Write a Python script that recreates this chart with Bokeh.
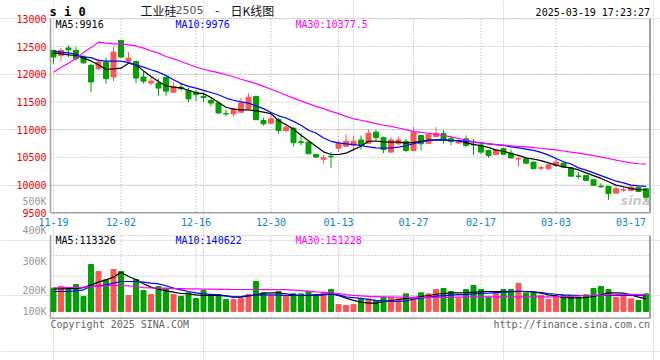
from bokeh.plotting import figure
from bokeh.models import Range1d, Label, ColumnDataSource
from bokeh.core.properties import value
from bokeh.embed import file_html
from bokeh.resources import INLINE

# ---------------- data ----------------
date_idx = [0, 9, 19, 29, 38, 48, 57, 67, 77]
date_labels = ["11-19", "12-02", "12-16", "12-30", "01-13", "01-27", "02-17", "03-03", "03-17"]
price_ticks = [9500, 10000, 10500, 11000, 11500, 12000, 12500, 13000]
vol_tick_labels = ["500K", "400K", "300K", "200K", "100K"]

opens = [12430, 12340, 12475, 12430, 12325, 12160, 12100, 12220, 11950, 12610,
         12235, 12230, 11950, 11840, 11840, 11945, 11675, 11765, 11705, 11675,
         11600, 11525, 11480, 11290, 11285, 11315, 11380, 11600, 11165, 11117,
         11180, 10985, 11025, 10780, 10775, 10550, 10467, 10520, 10665, 10700,
         10720, 10815, 10755, 10955, 10855, 10595, 10745, 10790, 10625, 10895,
         10755, 10877, 10930, 10835, 10760, 10835, 10730, 10725, 10625, 10552,
         10655, 10575, 10470, 10475, 10415, 10305, 10295, 10355, 10395, 10310,
         10165, 10175, 10095, 9980, 9975, 9855, 9910, 9905, 9960, 9935]
highs = [12440, 12480, 12520, 12490, 12330, 12190, 12280, 12300, 12490, 12615,
         12400, 12250, 12055, 11950, 11920, 11950, 11855, 11830, 11755, 11720,
         11675, 11585, 11490, 11360, 11380, 11575, 11660, 11610, 11215, 11286,
         11215, 11115, 11045, 10935, 10780, 10560, 10550, 10595, 10805, 10915,
         10895, 10895, 10995, 10995, 10875, 10865, 10875, 10830, 11055, 10900,
         10920, 11045, 10990, 10895, 10830, 10895, 10835, 10760, 10640, 10660,
         10680, 10640, 10515, 10495, 10420, 10355, 10370, 10475, 10400, 10320,
         10235, 10185, 10100, 10030, 9980, 9975, 9975, 9990, 9975, 9940]
lows = [12190, 12235, 12310, 12250, 12190, 11680, 12080, 11830, 11875, 12300,
        12230, 11840, 11830, 11800, 11615, 11605, 11670, 11705, 11495, 11515,
        11495, 11420, 11290, 11240, 11240, 11300, 11370, 11170, 11075, 11110,
        10925, 10955, 10695, 10715, 10560, 10495, 10385, 10310, 10595, 10685,
        10625, 10640, 10750, 10805, 10575, 10590, 10720, 10600, 10620, 10625,
        10750, 10870, 10748, 10715, 10740, 10685, 10545, 10565, 10490, 10545,
        10550, 10480, 10335, 10385, 10290, 10265, 10290, 10325, 10320, 10155,
        10115, 10080, 9990, 9950, 9735, 9845, 9880, 9890, 9880, 9710]
closes = [12310, 12430, 12440, 12280, 12205, 11860, 12220, 11920, 12400, 12310,
          12290, 11930, 11875, 11875, 11750, 11695, 11780, 11740, 11555, 11630,
          11580, 11480, 11300, 11285, 11375, 11480, 11585, 11180, 11105, 11196,
          10985, 11045, 10765, 10770, 10565, 10505, 10492, 10510, 10755, 10790,
          10790, 10715, 10935, 10855, 10640, 10815, 10815, 10625, 10955, 10745,
          10915, 10935, 10825, 10788, 10800, 10715, 10725, 10595, 10535, 10637,
          10555, 10490, 10480, 10395, 10295, 10315, 10365, 10415, 10325, 10160,
          10155, 10085, 9995, 9970, 9845, 9935, 9915, 9965, 9885, 9780]

ma5 = [12380, 12370, 12350, 12338, 12290, 12240, 12170, 12085, 12095, 12110,
       12200, 12170, 12060, 11960, 11870, 11790, 11766, 11755, 11710, 11665,
       11650, 11580, 11490, 11405, 11370, 11358, 11358, 11340, 11315, 11290,
       11165, 11090, 11010, 10900, 10800, 10700, 10600, 10552, 10552, 10575,
       10640, 10700, 10790, 10795, 10780, 10774, 10774, 10756, 10770, 10790,
       10810, 10817, 10815, 10804, 10804, 10760, 10735, 10710, 10680, 10630,
       10610, 10570, 10535, 10490, 10470, 10440, 10400, 10360, 10330, 10310,
       10275, 10220, 10170, 10120, 10060, 10000, 9970, 9935, 9918, 9916]
ma10 = [12416, 12400, 12385, 12360, 12310, 12300, 12250, 12235, 12235, 12235,
        12210, 12170, 12127, 12080, 12037, 11975, 11900, 11830, 11780, 11750,
        11710, 11670, 11630, 11570, 11530, 11500, 11480, 11430, 11380, 11310,
        11250, 11210, 11150, 11080, 10990, 10940, 10850, 10790, 10760, 10745,
        10730, 10714, 10690, 10670, 10666, 10672, 10684, 10710, 10745, 10780,
        10804, 10812, 10817, 10804, 10798, 10790, 10775, 10760, 10745, 10730,
        10715, 10690, 10672, 10650, 10625, 10590, 10540, 10480, 10420, 10380,
        10310, 10270, 10220, 10170, 10120, 10070, 10040, 10000, 9985, 9976]
ma30 = [12037, 12120, 12200, 12290, 12390, 12480, 12578, 12560, 12549, 12549,
        12530, 12510, 12470, 12420, 12380, 12320, 12278, 12230, 12180, 12130,
        12090, 12055, 12030, 11990, 11955, 11910, 11870, 11830, 11780, 11730,
        11680, 11620, 11570, 11520, 11470, 11420, 11380, 11330, 11290, 11240,
        11196, 11170, 11140, 11110, 11080, 11060, 11030, 11000, 10965, 10950,
        10935, 10915, 10895, 10870, 10840, 10810, 10780, 10760, 10745, 10730,
        10720, 10710, 10700, 10690, 10675, 10665, 10650, 10635, 10615, 10595,
        10575, 10555, 10530, 10505, 10480, 10450, 10425, 10400, 10385, 10378]

volume_k = [210, 225, 198, 243, 135, 423, 360, 285, 378, 360,
            144, 288, 189, 153, 225, 210, 153, 135, 168, 117,
            189, 153, 153, 108, 108, 120, 153, 270, 168, 144,
            180, 144, 159, 159, 183, 153, 165, 198, 63, 54,
            63, 114, 114, 99, 129, 129, 114, 159, 114, 168,
            159, 198, 207, 180, 117, 198, 234, 198, 129, 168,
            198, 198, 252, 168, 168, 144, 108, 138, 144, 144,
            129, 150, 207, 225, 198, 129, 138, 114, 99, 159]
vol_ma5_k = [204, 204, 205, 205, 215, 240, 264, 285, 309, 354,
             315, 288, 250, 219, 200, 185, 174, 162, 160, 150,
             144, 144, 144, 140, 130, 129, 140, 150, 165, 168,
             168, 160, 150, 144, 144, 147, 150, 159, 144, 120,
             100, 84, 75, 75, 90, 99, 108, 118, 125, 135,
             144, 155, 162, 168, 168, 170, 174, 177, 180, 180,
             178, 180, 182, 180, 175, 165, 150, 140, 125, 123,
             123, 125, 135, 150, 168, 168, 165, 150, 129, 113]
vol_ma10_k = [180, 180, 180, 185, 195, 228, 230, 240, 255, 270,
              270, 270, 264, 255, 249, 232, 210, 195, 180, 168,
              159, 155, 150, 140, 132, 135, 144, 148, 150, 150,
              148, 146, 144, 144, 147, 150, 155, 159, 150, 132,
              124, 118, 108, 100, 95, 90, 92, 95, 110, 120,
              130, 138, 142, 148, 152, 155, 159, 162, 165, 170,
              175, 178, 180, 180, 178, 170, 162, 155, 150, 147,
              145, 144, 144, 144, 144, 146, 148, 146, 144, 141]
vol_ma30_k = [213, 214, 216, 218, 220, 225, 228, 231, 234, 234,
              230, 225, 215, 212, 210, 208, 206, 205, 204, 203,
              202, 201, 200, 199, 198, 198, 198, 198, 197, 197,
              196, 196, 192, 188, 182, 176, 172, 168, 162, 152,
              146, 140, 136, 134, 132, 130, 129, 128, 127, 126,
              126, 126, 127, 128, 129, 130, 132, 132, 132, 132,
              132, 132, 132, 132, 132, 132, 132, 133, 135, 137,
              140, 144, 146, 148, 150, 152, 155, 154, 152, 151]

# ---------------- styling / layout helpers ----------------
RED = "#ff5555"
GREEN = "#00a000"
GRID = "#aaaaaa"
BORDER = "#a0a0a0"
MONO = "DejaVu Sans Mono"
CJK = "Noto Sans CJK SC"

PPX = 3500.0 / 194.0        # price units per pixel
VPX = 9000.0                # volume units per pixel
DX, DY = 0, 0               # canvas offset in reference pixels


def ry(py):
    return 13000.0 - (py - 18.3) * PPX


def rx(px):
    return (px - 53.0) / 7.5


def rv(py):
    return (311.0 - py) * VPX


W, H = 660, 360
p = figure(width=W, height=H, output_backend="svg", toolbar_location=None, tools="",
           x_range=Range1d(rx(DX), rx(DX + W)), y_range=Range1d(ry(DY + H), ry(DY)),
           x_axis_location=None, y_axis_location=None,
           min_border_left=0, min_border_right=0, min_border_top=0, min_border_bottom=0)
p.extra_y_ranges = {"vol": Range1d(rv(DY + H), rv(DY))}
p.outline_line_color = None
p.background_fill_color = "white"
p.border_fill_color = "white"

L, R = rx(50), rx(649.5)
PT, PB = price_ticks[-1], price_ticks[0]
VT, VB = ry(235), ry(317.7)

# dotted gridlines
hy = price_ticks[1:] + [VT, ry(255), ry(275.7), ry(295)]
p.segment(x0=[L] * len(hy), y0=hy, x1=[R] * len(hy), y1=hy,
          line_color=GRID, line_dash="1 2", line_width=1)
gx = date_idx[1:-1]
p.segment(x0=gx, y0=[PT] * len(gx), x1=gx, y1=[PB] * len(gx),
          line_color=GRID, line_dash="1 2", line_width=1)
p.segment(x0=gx, y0=[VT] * len(gx), x1=gx, y1=[VB] * len(gx),
          line_color=GRID, line_dash="1 2", line_width=1)

# solid frame borders
p.segment(x0=[L, L, L, L], y0=[PT, PB, VT, VB], x1=[L, R, L, R], y1=[PB, PB, VB, VB],
          line_color=BORDER, line_width=1.5)
p.segment(x0=[R, R], y0=[PT, VT], x1=[R, R], y1=[PB, VB], line_color=BORDER, line_width=2)

# candles and volume
xs = list(range(len(closes)))
colors = [RED if c >= o else GREEN for o, c in zip(opens, closes)]
src = ColumnDataSource(dict(
    x=xs, o=opens, h=highs, l=lows, c=closes,
    top=[max(o, c) for o, c in zip(opens, closes)],
    bot=[min(o, c) for o, c in zip(opens, closes)],
    color=colors, vol=[v * 1000 for v in volume_k]))

p.segment(x0="x", y0="h", x1="x", y1="l", line_color="color", line_width=1, source=src)
p.vbar(x="x", width=0.66, top="top", bottom="bot", fill_color="color",
       line_color="color", line_width=1, source=src)
p.vbar(x="x", width=0.66, top="vol", bottom=0, fill_color="color",
       line_color="color", line_width=1, source=src, y_range_name="vol")

# moving averages
p.line(xs, ma5, line_color="black", line_width=1.2)
p.line(xs, ma10, line_color="#0000ff", line_width=1.2)
p.line(xs, ma30, line_color="#ff00ff", line_width=1.2)
p.line(xs, [v * 1000 for v in vol_ma5_k], line_color="black", line_width=1.2, y_range_name="vol")
p.line(xs, [v * 1000 for v in vol_ma10_k], line_color="#0000ff", line_width=1.2, y_range_name="vol")
p.line(xs, [v * 1000 for v in vol_ma30_k], line_color="#ff00ff", line_width=1.2, y_range_name="vol")

# price tick labels (left scale)
p.text(x=[rx(46)] * len(price_ticks), y=price_ticks, text=[str(t) for t in price_ticks],
       text_color="#ee0000", text_font=value(MONO), text_font_size="10px",
       text_align="right", text_baseline="middle")


def lab(text, x, y, color, size="10px", align="left", font=MONO, style="normal", alpha=1.0):
    p.add_layout(Label(x=x, y=y, text=text, text_color=color, text_font=font,
                       text_font_size=size, text_align=align, text_baseline="middle",
                       text_font_style=style, text_alpha=alpha))


# header
lab("s i 0", rx(49), ry(11), "black", size="12px", style="bold")
lab("工业硅", rx(140), ry(9.5), "#111111", size="12px", font=CJK)
lab("2505", rx(175), ry(9.8), "#555555", size="11px", font="DejaVu Sans")
lab("-", rx(216.5), ry(9.5), "#111111", size="12px", align="center", font=CJK)
lab("日K线图", rx(230), ry(9.5), "#111111", size="12px", font=CJK)
lab("2025-03-19 17:23:27", rx(649.5), ry(11.7), "black", align="right")

# MA captions
lab("MA5:%d" % ma5[-1], rx(55), ry(24), "black")
lab("MA10:%d" % ma10[-1], rx(175), ry(24), "#0000ff")
lab("MA30:10377.5", rx(295), ry(24), "#ff00ff")
lab("MA5:113326", rx(55), ry(239.5), "black")
lab("MA10:140622", rx(175), ry(239.5), "#0000ff")
lab("MA30:151228", rx(295), ry(239.5), "#ff00ff")

# volume scale labels
for t, yy in zip(vol_tick_labels, [200.5, 230, 260.5, 290, 311]):
    lab(t, rx(46), ry(yy), "#999999", align="right")

# date labels
for i, t in zip(date_idx, date_labels):
    lab(t, i, ry(221.5), "#0a84c8", align="center")

# footer
lab("Copyright 2025 SINA.COM", rx(50), ry(323.7), "#666666")
lab("http://finance.sina.com.cn", rx(649.5), ry(323.7), "#666666", align="right")

# watermark
lab("sina", rx(635), ry(200), "#b0b0b0", size="13px", align="center",
    font="DejaVu Sans", style="bold italic", alpha=0.7)

open("out.html", "w").write(file_html(p, INLINE))
